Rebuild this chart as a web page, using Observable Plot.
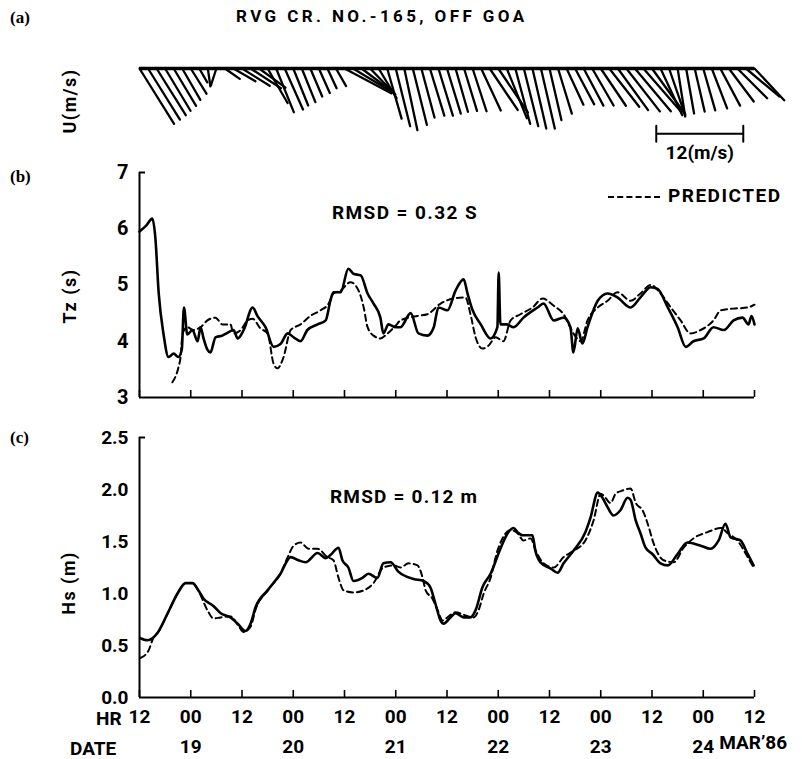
<!DOCTYPE html>
<html><head><meta charset="utf-8">
<script src="https://cdn.jsdelivr.net/npm/d3@7"></script>
<script src="https://cdn.jsdelivr.net/npm/@observablehq/plot@0.6"></script>
<style>
body{margin:0;background:#fff;}
#chart{position:relative;width:802px;height:759px;background:#fff;font-family:Roboto,"DejaVu Sans",sans-serif;font-weight:700;color:#000;overflow:hidden;}
.lab{position:absolute;white-space:nowrap;line-height:1;}
.panel{position:absolute;left:0;}
.tag{font-family:"Liberation Serif",serif;font-weight:bold;font-size:17px;}
.rot{transform:translate(-50%,-50%) rotate(-90deg);font-size:18px;letter-spacing:1.5px;}
</style></head><body><div id="chart"></div>
<script>
// ---- wind sticks (panel a): hours after 18 Mar 12:00, speed m/s, direction (deg, toward, clockwise from north)
const windHour = [0,2,4,6,8,10,12,14,16,18,20,22,24,26,28,30,32,34,36,38,40,42,44,46,48,50,52,54,56,58,60,62,64,66,68,70,72,74,76,78,80,82,84,86,88,90,92,94,96,98,100,102,104,106,108,110,112,114,116,118,120,122,124,126,128,130,132,134,136,138,140,142,144];
const windSpeed = [9.0,8.3,7.6,6.8,6.0,5.0,4.1,2.2,2.5,2.4,2.5,3.5,4.5,5.0,4.5,5.5,6.5,6.2,5.5,5.0,4.2,3.7,3.0,2.8,7.3,6.4,5.5,5.0,4.8,7.2,8.2,8.7,8.0,7.0,6.8,6.8,6.5,6.2,6.1,6.2,6.4,6.9,7.3,7.4,7.9,8.2,8.5,8.5,7.3,6.5,5.5,5.6,5.8,5.9,6.2,6.7,7.1,7.5,7.7,8.0,7.8,7.1,6.8,6.7,6.3,6.1,6.0,5.9,5.8,5.7,5.8,6.0,6.0];
const windDir = [148,148,148,149,149,150,148,150,172,198,125,120,122,123,126,150,158,156,158,158,157,156,155,150,118,121,127,136,149,164,166,168,166,165,163,163,163,164,163,162,155,146,146,158,165,166,167,167,167,163,155,152,152,150,146,142,144,142,140,139,144,155,161,171,170,167,164,159,152,143,135,130,137];

// ---- Tz (panel b)
const tzObsHour = [0,1.5,3.0,3.7,4.5,5.6,6.8,8.0,9.1,9.9,10.4,11.2,12.4,13.6,14.3,15.0,15.9,16.6,17.8,19.4,20.6,22.0,23.0,24.4,26.5,27.6,29.5,31.4,33.0,34.7,36.1,37.7,39.3,41.7,43.6,44.7,45.4,47.1,48.9,50.1,51.8,53.4,54.8,56.4,57.1,58.3,60.0,61.1,63.5,65.3,67.4,68.9,70.0,72.1,74.0,75.9,76.8,78.0,79.9,82.2,83.8,84.1,84.5,86.0,87.6,89.9,93.2,94.6,97.0,99.3,100.9,101.6,102.6,103.7,104.9,107.3,109.6,111.9,115.0,117.3,119.7,121.3,123.7,126.0,127.9,129.7,132.1,134.4,136.8,139.1,141.2,142.6,143.3,144.0];
const tzObs = [5.95,6.05,6.18,5.85,4.85,4.14,3.72,3.78,3.72,3.85,4.6,4.12,4.2,4.0,4.25,4.05,3.85,3.8,4.07,4.1,4.15,4.2,4.05,4.2,4.6,4.45,4.25,3.9,3.95,4.14,4.07,4.0,4.2,4.3,4.37,4.72,4.87,4.87,5.29,5.2,5.17,4.85,4.67,4.42,4.14,4.3,4.25,4.25,4.5,4.14,4.1,4.25,4.6,4.55,4.9,5.1,4.85,4.55,4.3,4.05,4.25,5.22,4.3,4.3,4.25,4.42,4.6,4.67,4.37,4.42,4.25,3.8,4.23,3.96,4.25,4.72,4.85,4.78,4.6,4.78,4.96,4.93,4.6,4.25,3.9,4.0,4.05,4.25,4.2,4.37,4.42,4.3,4.45,4.3];
const tzPredHour = [7.7,9.1,9.6,10.1,11.2,12.6,14.3,15.9,17.8,19.4,21.3,22.0,23.7,25.3,26.5,28.3,30.0,31.4,32.3,33.7,35.4,37.7,40.0,42.4,44.3,45.4,47.1,49.4,51.3,52.5,53.4,54.8,56.4,58.1,60.0,61.1,65.1,67.4,70.5,73.5,76.3,77.5,78.7,80.3,81.7,83.4,85.2,86.9,89.2,92.0,94.4,97.0,99.3,101.6,103.3,104.9,107.3,109.6,111.9,115.0,117.3,119.7,122.0,124.4,126.7,129.0,131.4,134.4,136.1,139.1,142.4,144.0];
const tzPred = [3.27,3.53,3.71,4.14,4.25,4.2,4.25,4.37,4.42,4.3,4.3,4.14,4.2,4.37,4.4,4.23,4.14,3.6,3.52,3.71,4.2,4.3,4.45,4.55,4.67,4.85,4.9,5.05,4.9,4.6,4.25,4.1,4.05,4.14,4.28,4.37,4.45,4.48,4.67,4.76,4.78,4.48,4.07,3.87,3.92,4.07,4.0,4.37,4.48,4.6,4.76,4.63,4.48,4.14,4.0,4.37,4.6,4.72,4.87,4.72,4.85,5.0,4.85,4.6,4.37,4.14,4.2,4.37,4.55,4.58,4.6,4.65];

// ---- Hs (panel c)
const hsObsHour = [0.2,1.9,4.2,6.6,8.9,10.8,12.4,13.8,15.0,17.3,19.0,21.3,23.0,24.8,26.0,27.2,30.0,33.0,35.4,37.2,38.9,41.7,43.6,44.7,46.6,47.5,48.9,50.1,52.2,53.6,55.7,57.1,58.8,60.6,64.2,66.5,68.1,69.3,70.5,71.2,72.8,74.0,75.9,77.5,78.7,80.3,82.2,84.5,86.2,87.6,88.5,89.7,92.0,92.7,93.9,96.3,97.9,99.3,101.6,104.4,105.6,107.3,108.4,109.6,111.0,112.6,114.3,115.0,116.2,117.3,118.5,120.1,122.0,123.7,126.0,128.3,131.4,133.7,135.6,137.2,138.4,140.7,142.4,143.8];
const hsObs = [0.57,0.55,0.62,0.81,1.0,1.10,1.10,1.03,0.95,0.88,0.81,0.77,0.71,0.64,0.71,0.87,1.03,1.19,1.35,1.32,1.30,1.39,1.34,1.37,1.44,1.32,1.25,1.12,1.15,1.19,1.15,1.29,1.30,1.21,1.14,1.12,1.06,0.90,0.74,0.71,0.77,0.81,0.77,0.77,0.84,1.06,1.19,1.43,1.58,1.63,1.59,1.56,1.56,1.41,1.30,1.24,1.20,1.29,1.41,1.59,1.73,1.97,1.92,1.83,1.75,1.80,1.92,1.90,1.70,1.58,1.44,1.38,1.29,1.27,1.38,1.49,1.46,1.43,1.51,1.67,1.54,1.51,1.38,1.27];
const hsPredHour = [0.2,2.1,3.3,4.4,6.6,8.9,10.8,12.4,13.6,15.9,17.3,19.0,21.3,23.0,24.4,26.0,27.2,30.0,33.0,34.7,36.1,37.7,39.6,41.7,44.0,45.4,46.6,47.8,50.1,52.5,54.8,57.1,59.5,61.1,63.0,65.1,66.3,67.0,68.6,69.8,71.0,72.1,74.0,76.3,78.2,79.4,80.6,82.2,83.8,85.0,86.9,88.5,89.9,91.6,92.7,94.6,97.0,99.3,101.6,104.4,106.3,108.0,109.1,110.3,111.5,113.1,115.0,116.2,117.8,119.0,120.4,122.7,125.1,127.4,129.7,133.0,136.1,137.7,140.0,142.4,143.8];
const hsPred = [0.38,0.45,0.58,0.63,0.81,1.0,1.10,1.10,1.04,0.84,0.76,0.77,0.78,0.70,0.63,0.68,0.85,1.03,1.19,1.35,1.46,1.49,1.43,1.43,1.35,1.32,1.15,1.03,1.01,1.03,1.10,1.25,1.27,1.25,1.29,1.27,1.15,1.03,0.95,0.84,0.74,0.77,0.82,0.79,0.77,0.84,1.0,1.15,1.41,1.53,1.61,1.58,1.51,1.53,1.42,1.29,1.25,1.35,1.41,1.51,1.70,1.96,1.92,1.87,1.96,1.99,2.01,1.87,1.80,1.67,1.48,1.32,1.30,1.44,1.53,1.59,1.63,1.58,1.51,1.35,1.25];

// ---- axis ticks and labels
const hourTicks = [0,12,24,36,48,60,72,84,96,108,120,132,144];
const hourLabels = ["12","00","12","00","12","00","12","00","12","00","12","00","12"];
const dateTicks = [12,36,60,84,108,132];
const dateLabels = ["19","20","21","22","23","24"];
const tzTicks = [3,4,5,6,7];
const hsTicks = [0,0.5,1.0,1.5,2.0,2.5];
const scaleBarSpeed = 12;

// ---------- build ----------
const W = 802, ML = 139, MR = 48;
const chart = document.getElementById("chart");
const styleObj = {fontFamily: "Roboto, 'DejaVu Sans', sans-serif", fontWeight: "700", fontSize: "19px", overflow: "visible", background: "none", color: "#000"};
function place(el, top) { const d = document.createElement("div"); d.className = "panel"; d.style.top = top + "px"; d.appendChild(el); chart.appendChild(d); }
function lab(html, css, cls) { const d = document.createElement("div"); d.className = "lab " + (cls || ""); d.innerHTML = html; Object.assign(d.style, css); chart.appendChild(d); }
const rows = (hs, vs) => hs.map((h, i) => ({hour: h, value: vs[i]}));

const stickShape = {draw(c, l) { c.moveTo(0, 0); c.lineTo(0, -l); }};
const barShape = {draw(c, l) { c.moveTo(0, 0); c.lineTo(0, -l); c.moveTo(-8, 0); c.lineTo(8, 0); c.moveTo(-8, -l); c.lineTo(8, -l); }};

const wind = windHour.map((h, i) => ({hour: h, speed: windSpeed[i], dir: windDir[i], row: 0}));
const scaleBar = [{hour: 121, speed: scaleBarSpeed, row: -9}];

const pa = Plot.plot({
  width: W, height: 165, marginLeft: ML, marginRight: MR, marginTop: 68, marginBottom: 10,
  x: {domain: [0, 144], axis: null}, y: {domain: [-12, 0], axis: null},
  length: {domain: [0, 12], range: [0, 87]},
  style: styleObj,
  marks: [
    Plot.vector(wind, {x: "hour", y: "row", length: "speed", rotate: "dir", anchor: "start", shape: stickShape, stroke: "#000", strokeWidth: 2.3}),
    Plot.ruleY([0], {strokeWidth: 3.5}),
    Plot.vector(scaleBar, {x: "hour", y: "row", length: "speed", rotate: 90, anchor: "start", shape: barShape, stroke: "#000", strokeWidth: 2}),
    Plot.text(scaleBar, {x: "hour", y: "row", text: d => `${d.speed}(m/s)`, dx: 43.5, dy: 19, fontSize: 19, letterSpacing: "1px"})
  ]
});
place(pa, 0);

const pb = Plot.plot({
  width: W, height: 257, marginLeft: ML, marginRight: MR, marginTop: 22, marginBottom: 10,
  x: {domain: [0, 144]}, y: {domain: [3, 7]},
  style: styleObj,
  marks: [
    Plot.axisY({ticks: tzTicks, tickSize: 0, tickPadding: 11, tickFormat: d3.format("d"), label: null, fontSize: 20}),
    Plot.axisY({ticks: [7], tickSize: -6, tickFormat: () => "", label: null, strokeWidth: 2}),
    Plot.axisX({ticks: hourTicks, tickSize: -7, tickFormat: () => "", label: null, strokeWidth: 1.6}),
    Plot.ruleX([0], {strokeWidth: 2}),
    Plot.ruleY([3], {strokeWidth: 2}),
    Plot.line(rows(tzPredHour, tzPred), {x: "hour", y: "value", curve: "monotone-x", stroke: "#000", strokeWidth: 2, strokeDasharray: "6,4"}),
    Plot.line(rows(tzObsHour, tzObs), {x: "hour", y: "value", curve: "monotone-x", stroke: "#000", strokeWidth: 2.6})
  ]
});
place(pb, 150);

const pc = Plot.plot({
  width: W, height: 344, marginLeft: ML, marginRight: MR, marginTop: 22, marginBottom: 62,
  x: {domain: [0, 144]}, y: {domain: [0, 2.5]},
  style: styleObj,
  marks: [
    Plot.axisY({ticks: hsTicks, tickSize: 0, tickPadding: 11, tickFormat: d3.format(".1f"), label: null, fontSize: 19}),
    Plot.axisY({ticks: [2.5], tickSize: -6, tickFormat: () => "", label: null, strokeWidth: 2}),
    Plot.axisX({ticks: hourTicks, tickSize: -7, tickFormat: () => "", label: null, strokeWidth: 1.6}),
    Plot.axisX({ticks: hourTicks, tickSize: 0, tickPadding: 12, tickFormat: d => hourLabels[hourTicks.indexOf(d)], label: null, fontSize: 19}),
    Plot.axisX({ticks: dateTicks, tickSize: 0, tickPadding: 42, tickFormat: d => dateLabels[dateTicks.indexOf(d)], label: null, fontSize: 19}),
    Plot.text(["MAR’86"], {x: () => dateTicks[dateTicks.length - 1], frameAnchor: "bottom", dx: 16, dy: 51, textAnchor: "start", fontSize: 19}),
    Plot.ruleX([0], {strokeWidth: 2}),
    Plot.ruleY([0], {strokeWidth: 2}),
    Plot.line(rows(hsPredHour, hsPred), {x: "hour", y: "value", curve: "monotone-x", stroke: "#000", strokeWidth: 2, strokeDasharray: "6,4"}),
    Plot.line(rows(hsObsHour, hsObs), {x: "hour", y: "value", curve: "monotone-x", stroke: "#000", strokeWidth: 2.6})
  ]
});
place(pc, 415);

// ---- text labels
lab("(a)", {left: "10px", top: "9px"}, "tag");
lab("RVG CR. NO.-165, OFF GOA", {left: "236px", top: "8px", fontSize: "17px", letterSpacing: "3.4px"});
lab("U(m/s)", {left: "70px", top: "101px"}, "rot");
lab("(b)", {left: "10px", top: "168px"}, "tag");
lab("Tz (s)", {left: "70px", top: "296px"}, "rot");
lab("RMSD = 0.32 S", {left: "332px", top: "203px", fontSize: "19px", letterSpacing: "1.4px"});
lab('<span style="display:inline-block;width:52px;border-top:2px dashed #000;vertical-align:middle;margin-right:8px"></span>PREDICTED', {left: "608px", top: "186px", fontSize: "19px", letterSpacing: "1.5px"});
lab("(c)", {left: "10px", top: "429px"}, "tag");
lab("Hs (m)", {left: "69px", top: "583px"}, "rot");
lab("RMSD = 0.12 m", {left: "330px", top: "487px", fontSize: "19px", letterSpacing: "1.2px"});
lab("HR", {left: "96px", top: "709px", fontSize: "19px"});
lab("DATE", {left: "70px", top: "739px", fontSize: "19px"});
</script></body></html>
